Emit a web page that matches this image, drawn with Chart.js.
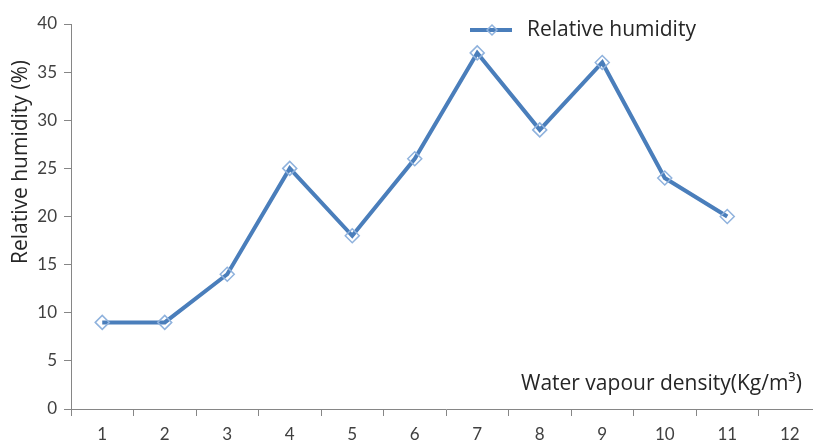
<!DOCTYPE html>
<html>
<head>
<meta charset="utf-8">
<script src="https://cdn.jsdelivr.net/npm/chart.js@4"></script>
<style>
  html, body { margin: 0; padding: 0; background: #fff; overflow: hidden; }
  #wrap { width: 830px; height: 446px; }
</style>
</head>
<body>
<div id="wrap"><canvas id="chart" width="830" height="446"></canvas></div>
<script>
// chart data
const categories = ["1", "2", "3", "4", "5", "6", "7", "8", "9", "10", "11", "12"];
const humidity = [9, 9, 14, 25, 18, 26, 37, 29, 36, 24, 20, null];
const yTicks = [0, 5, 10, 15, 20, 25, 30, 35, 40];

const seriesName = "Relative humidity";
const xTitle = "Water vapour density(Kg/m\u00b3)";
const yTitle = "Relative humidity (%)";

const TITLE_FONT = "21px 'Open Sans'";
const TICK_FONT = "Lato";
const axisGray = "#868686";
const lineBlue = "#4a7ebb";
const markerBlue = "#8fb2dd";

// titles and legend drawn on top of the plot, like the original
const overlay = {
  id: "overlay",
  afterDraw(chart) {
    const ctx = chart.ctx;
    const area = chart.chartArea;
    ctx.save();
    ctx.fillStyle = "#262626";
    ctx.font = TITLE_FONT;

    // x title sits inside the plot, bottom right
    ctx.textAlign = "left";
    ctx.textBaseline = "middle";
    ctx.fillText(xTitle, 521, area.bottom - 25);

    // y title rotated
    ctx.save();
    ctx.translate(21, 162);
    ctx.rotate(-Math.PI / 2);
    ctx.textAlign = "center";
    ctx.fillText(yTitle, 0, 0);
    ctx.restore();

    // legend
    const ly = 30;
    ctx.strokeStyle = lineBlue;
    ctx.lineWidth = 4;
    ctx.beginPath();
    ctx.moveTo(470, ly);
    ctx.lineTo(512, ly);
    ctx.stroke();
    ctx.strokeStyle = markerBlue;
    ctx.lineWidth = 1.5;
    ctx.beginPath();
    ctx.moveTo(492, ly - 5);
    ctx.lineTo(497, ly);
    ctx.lineTo(492, ly + 5);
    ctx.lineTo(487, ly);
    ctx.closePath();
    ctx.stroke();
    ctx.fillStyle = "#262626";
    ctx.textAlign = "left";
    ctx.fillText(seriesName, 527, ly);
    ctx.restore();
  }
};

new Chart(document.getElementById("chart"), {
  type: "line",
  data: {
    labels: categories,
    datasets: [{
      label: seriesName,
      data: humidity,
      borderColor: lineBlue,
      borderWidth: 4,
      tension: 0,
      pointStyle: "rectRot",
      pointRadius: 7,
      pointHoverRadius: 7,
      pointBackgroundColor: "rgba(255,255,255,0)",
      pointBorderColor: markerBlue,
      pointBorderWidth: 1.5,
      clip: false
    }]
  },
  options: {
    responsive: false,
    animation: false,
    layout: { padding: { top: 24, right: 9, left: 0, bottom: 0 } },
    plugins: {
      legend: { display: false },
      tooltip: { enabled: false }
    },
    scales: {
      x: {
        offset: true,
        grid: {
          offset: true,
          drawOnChartArea: false,
          drawTicks: true,
          tickLength: 7,
          color: axisGray
        },
        border: { color: axisGray, width: 1 },
        ticks: {
          color: "#404040",
          font: { family: TICK_FONT, size: 17 },
          padding: 8,
          maxRotation: 0
        },
        afterFit(scale) { scale.height = 37; }
      },
      y: {
        min: 0,
        max: 40,
        afterBuildTicks(scale) { scale.ticks = yTicks.map(v => ({ value: v })); },
        grid: {
          drawOnChartArea: false,
          drawTicks: true,
          tickLength: 7,
          color: axisGray
        },
        border: { color: axisGray, width: 1 },
        ticks: {
          color: "#404040",
          font: { family: TICK_FONT, size: 17 },
          padding: 7
        },
        afterFit(scale) { scale.width = 71; }
      }
    }
  },
  plugins: [overlay]
});
</script>
</body>
</html>
